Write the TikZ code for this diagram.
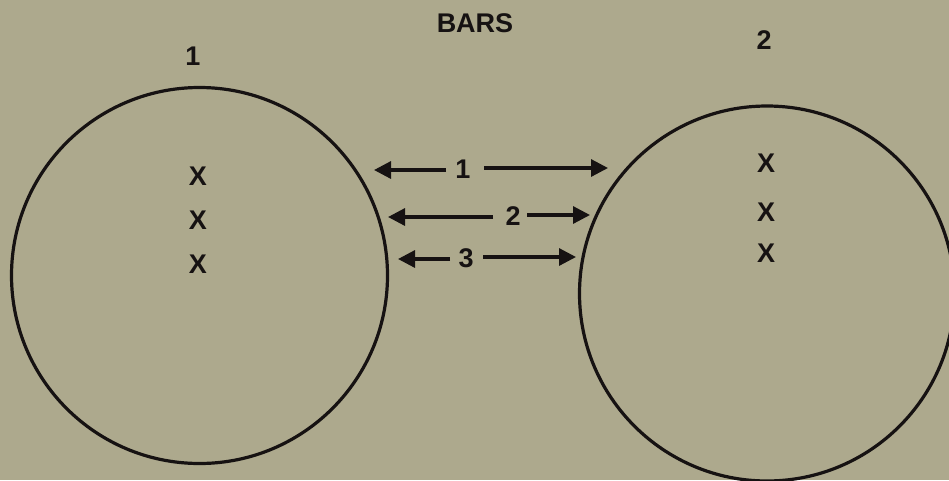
\documentclass[tikz,border=0pt]{standalone}
\usepackage{fontspec}
\newfontfamily\letterfont{Liberation Sans}
\usetikzlibrary{arrows.meta}
\definecolor{bgkhaki}{RGB}{173,169,141}
\definecolor{ink}{RGB}{22,18,18}
\tikzset{
  lbl/.style={font=\letterfont\bfseries\fontsize{27}{30}\selectfont, text=ink, inner sep=0pt},
  ring/.style={circle, draw=ink, line width=3.2pt, inner sep=0pt},
  arr/.style={draw=ink, line width=3.2pt, -{Triangle[length=17pt,width=17pt]}}
}
\begin{document}
\begin{tikzpicture}[x=1pt,y=-1pt]
\fill[bgkhaki] (0,0) rectangle (949,480);
\useasboundingbox (0,0) rectangle (949,480);

\node[lbl] (title) at (475,23) {BARS};
\node[lbl] (lab1) at (193,56) {1};
\node[lbl] (lab2) at (764,40) {2};

\node[ring, minimum size=376pt] (c1) at (199.5,275.5) {};
\node[ring, minimum size=375pt] (c2) at (767,293.5) {};

\node[lbl] (x11) at (198,176) {X};
\node[lbl] (x12) at (198,220) {X};
\node[lbl] (x13) at (198,264) {X};
\node[lbl] (x21) at (766,163) {X};
\node[lbl] (x22) at (766,212) {X};
\node[lbl] (x23) at (766,253) {X};

% bar arrows
\node[lbl] (b1) at (463,169) {1};
\coordinate (b1l) at (374,170);
\coordinate (b1r) at (608,168);
\coordinate (b1a) at (446,170);
\coordinate (b1b) at (484,168);
\draw[arr] (b1a) -- (b1l);
\draw[arr] (b1b) -- (b1r);

\node[lbl] (b2) at (513,216) {2};
\coordinate (b2l) at (388,217);
\coordinate (b2r) at (590,215);
\coordinate (b2a) at (493,217);
\coordinate (b2b) at (527,215);
\draw[arr] (b2a) -- (b2l);
\draw[arr] (b2b) -- (b2r);

\node[lbl] (b3) at (466,258) {3};
\coordinate (b3l) at (398,259);
\coordinate (b3r) at (576,257);
\coordinate (b3a) at (450,259);
\coordinate (b3b) at (483,257);
\draw[arr] (b3a) -- (b3l);
\draw[arr] (b3b) -- (b3r);
\end{tikzpicture}
\end{document}
